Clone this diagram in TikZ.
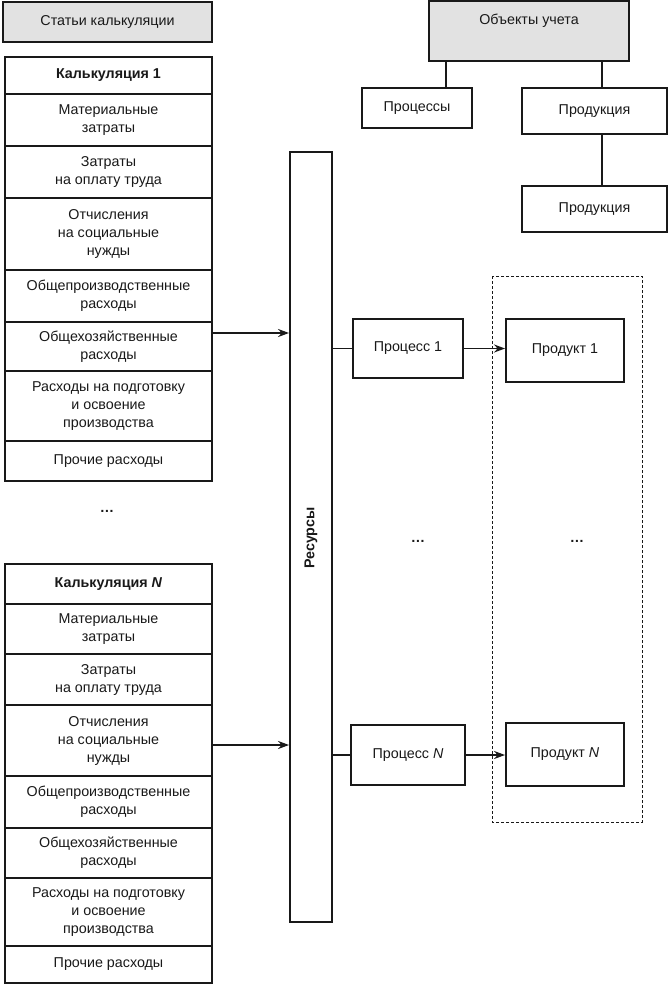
\documentclass[tikz,border=0pt]{standalone}
\usepackage{fontspec}
\setmainfont{Liberation Sans}
\usetikzlibrary{arrows.meta}
\definecolor{hdr}{RGB}{226,226,226}
\definecolor{ink}{RGB}{25,25,25}
\begin{document}
\begin{tikzpicture}[x=1pt,y=-1pt,
  box/.style={draw=ink, line width=1.9pt, fill=white, inner sep=0pt, align=center,
    font=\fontsize{14.3}{18}\selectfont, text=ink},
  gray box/.style={box, fill=hdr},
  txt/.style={inner sep=0pt, align=center, font=\fontsize{14.3}{18}\selectfont, text=ink},
  conn/.style={draw=ink, line width=1.9pt},
  arr/.style={conn, -{Stealth[length=11pt,width=8pt]}},
  dashbox/.style={draw=ink, line width=0.9pt, dash pattern=on 3pt off 2pt}
]
\useasboundingbox (0,0) rectangle (668,985);

% header left
\node[gray box, minimum width=209, minimum height=40] (stat) at (107.5,22) {Статьи калькуляции};

% Calculation 1
\node[box, minimum width=207, minimum height=37] (c1h) at (108.5,75.5) {\textbf{Калькуляция 1}};
\node[box, minimum width=207, minimum height=52] (c1a) at (108.5,120) {Материальные\\затраты};
\node[box, minimum width=207, minimum height=52] (c1b) at (108.5,172) {Затраты\\на оплату труда};
\node[box, minimum width=207, minimum height=72] (c1c) at (108.5,234) {Отчисления\\на социальные\\нужды};
\node[box, minimum width=207, minimum height=52] (c1d) at (108.5,296) {Общепроизводственные\\расходы};
\node[box, minimum width=207, minimum height=49] (c1e) at (108.5,346.5) {Общехозяйственные\\расходы};
\node[box, minimum width=207, minimum height=70] (c1f) at (108.5,406) {Расходы на подготовку\\и освоение\\производства};
\node[box, minimum width=207, minimum height=40] (c1g) at (108.5,461) {Прочие расходы};

\node[txt, font=\fontsize{14.3}{18}\selectfont\bfseries] (dots1) at (107,511) {…};

% Calculation N
\node[box, minimum width=207, minimum height=40] (cNh) at (108.5,584) {\textbf{Калькуляция \textit{N}}};
\node[box, minimum width=207, minimum height=50] (cNa) at (108.5,629) {Материальные\\затраты};
\node[box, minimum width=207, minimum height=51] (cNb) at (108.5,679.5) {Затраты\\на оплату труда};
\node[box, minimum width=207, minimum height=71] (cNc) at (108.5,740.5) {Отчисления\\на социальные\\нужды};
\node[box, minimum width=207, minimum height=52] (cNd) at (108.5,802) {Общепроизводственные\\расходы};
\node[box, minimum width=207, minimum height=50] (cNe) at (108.5,853) {Общехозяйственные\\расходы};
\node[box, minimum width=207, minimum height=68] (cNf) at (108.5,912) {Расходы на подготовку\\и освоение\\производства};
\node[box, minimum width=207, minimum height=37] (cNg) at (108.5,964.5) {Прочие расходы};

% Resources bar
\node[box, minimum width=42, minimum height=770] (res) at (311,537) {};
\node[txt, rotate=90, font=\fontsize{14.3}{18}\selectfont\bfseries] (reslabel) at (311,538) {Ресурсы};

% arrows into resources
\draw[arr] ([yshift=13.5pt]c1e.east) -- ([yshift=13.5pt]c1e.east -| res.west);
\draw[arr] ([yshift=-4.5pt]cNc.east) -- ([yshift=-4.5pt]cNc.east -| res.west);

% dashed product frame
\draw[dashbox] (492,276) rectangle (642,822);

% processes and products
\node[box, minimum width=110, minimum height=59] (p1) at (408,348.5) {Процесс 1};
\node[box, minimum width=114, minimum height=60] (pN) at (408,755) {Процесс \textit{N}};
\node[box, minimum width=118, minimum height=63] (pr1) at (565,350.5) {Продукт 1};
\node[box, minimum width=118, minimum height=63] (prN) at (565,754.5) {Продукт \textit{N}};

\draw[conn] (p1.west -| res.east) -- (p1.west);
\draw[conn] (pN.west -| res.east) -- (pN.west);
\draw[arr] (p1.east) -- (p1.east -| pr1.west);
\draw[arr] (pN.east) -- (pN.east -| prN.west);

\node[txt, font=\fontsize{14.3}{18}\selectfont\bfseries] (dots2) at (418,541) {…};
\node[txt, font=\fontsize{14.3}{18}\selectfont\bfseries] (dots3) at (577,541) {…};

% accounting objects tree
\node[gray box, minimum width=200, minimum height=60] (obj) at (529,31) {};
\node[txt] (objlabel) at (529,21) {Объекты учета};
\node[box, minimum width=110, minimum height=40] (procs) at (417,108) {Процессы};
\node[box, minimum width=145, minimum height=46] (prod1) at (594.5,111) {Продукция};
\node[box, minimum width=145, minimum height=46] (prod2) at (594.5,209) {Продукция};

\path (obj.south west) ++(18,0) coordinate (ta);
\path (obj.south west) ++(174,0) coordinate (tb);
\draw[conn] (ta) -- (ta |- procs.north);
\draw[conn] (tb) -- (tb |- prod1.north);
\draw[conn] (tb |- prod1.south) -- (tb |- prod2.north);
\end{tikzpicture}
\end{document}
